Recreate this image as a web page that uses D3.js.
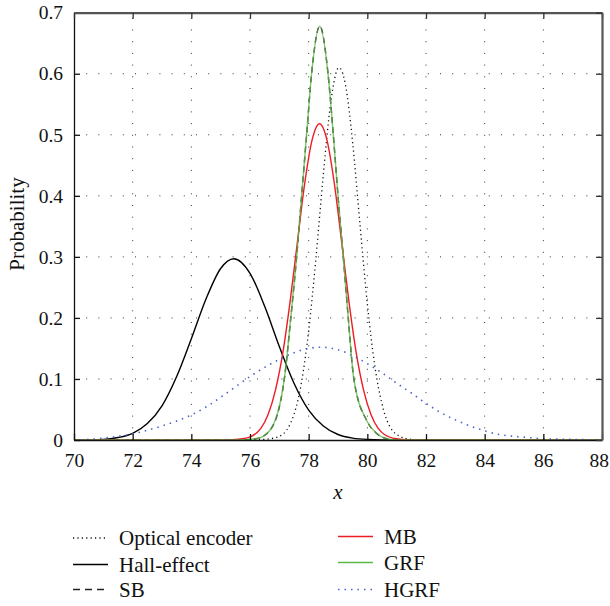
<!DOCTYPE html>
<html lang="en">
  <head>
    <meta charset="UTF-8" />
    <title>Probability curves</title>
    <script src="https://d3js.org/d3.v7.min.js"></script>
    <style>
      body {
        margin: 0;
        padding: 0;
        background-color: #ffffff;
      }
      svg text {
        font-family: "Liberation Serif", "DejaVu Serif", serif;
        fill: #111;
      }
    </style>
  </head>
  <body>
    <div id="chart"></div>

    <script>
      // -----------------------------
      // 1. Data
      // -----------------------------

      const xTicks = [70, 72, 74, 76, 78, 80, 82, 84, 86, 88];
      const xTickLabels = ["70", "72", "74", "76", "78", "80", "82", "84", "86", "88"];
      const yTicks = [0, 0.1, 0.2, 0.3, 0.4, 0.5, 0.6, 0.7];
      const yTickLabels = ["0", "0.1", "0.2", "0.3", "0.4", "0.5", "0.6", "0.7"];

      const seriesNames = ["Optical encoder", "Hall-effect", "SB", "MB", "GRF", "HGRF"];

      // Optical encoder (black dotted)
      const opticalX = [70, 76, 76.5, 77, 77.5, 77.75, 78, 78.25, 78.5, 78.75, 79.03, 79.25, 79.5, 79.75, 80, 80.25, 80.5, 81, 81.5, 82, 88];
      const opticalY = [0, 0, 0.001, 0.006, 0.042, 0.093, 0.179, 0.299, 0.435, 0.552, 0.61, 0.583, 0.487, 0.353, 0.223, 0.123, 0.059, 0.009, 0.001, 0, 0];

      // Hall-effect (black solid)
      const hallX = [70, 71, 71.5, 72, 72.5, 73, 73.5, 74, 74.5, 75, 75.45, 76, 76.5, 77, 77.5, 78, 78.5, 79, 79.5, 80, 81, 88];
      const hallY = [0, 0.001, 0.004, 0.011, 0.027, 0.056, 0.104, 0.166, 0.231, 0.281, 0.297, 0.273, 0.219, 0.153, 0.093, 0.049, 0.023, 0.009, 0.003, 0.001, 0, 0];

      // SB (black dashed) and GRF (green) - practically the same curve
      const grfX = [70, 75.5, 76.2, 76.68, 77.17, 77.39, 77.59, 77.76, 77.93, 78.1, 78.38, 78.66, 78.84, 79.0, 79.18, 79.35, 79.54, 80.0, 80.31, 80.6, 81, 88];
      const grfY = [0, 0, 0.002, 0.016, 0.1, 0.2, 0.3, 0.4, 0.5, 0.6, 0.678, 0.6, 0.5, 0.4, 0.3, 0.2, 0.1, 0.03, 0.011, 0.003, 0, 0];
      const sbX = [70, 75.5, 76.2, 76.68, 77.17, 77.39, 77.59, 77.76, 77.93, 78.1, 78.38, 78.66, 78.84, 79.0, 79.18, 79.35, 79.54, 80.0, 80.31, 80.6, 81, 88];
      const sbY = [0, 0, 0.002, 0.016, 0.1, 0.2, 0.3, 0.4, 0.5, 0.6, 0.678, 0.6, 0.5, 0.4, 0.3, 0.2, 0.1, 0.03, 0.011, 0.003, 0, 0];

      // MB (red)
      const mbX = [70, 75.2, 75.87, 76.37, 76.62, 76.87, 77.12, 77.37, 77.62, 77.87, 78.12, 78.37, 78.62, 78.87, 79.12, 79.37, 79.62, 79.87, 80.12, 80.37, 80.87, 81.5, 88];
      const mbY = [0, 0, 0.003, 0.019, 0.042, 0.082, 0.143, 0.228, 0.326, 0.422, 0.492, 0.518, 0.492, 0.422, 0.326, 0.228, 0.143, 0.082, 0.042, 0.019, 0.003, 0, 0];

      // HGRF (blue dotted)
      const hgrfX = [70, 70.5, 71, 71.5, 72, 72.5, 73, 73.5, 74, 74.5, 75, 75.5, 76, 76.5, 77, 77.5, 78, 78.4, 79, 79.5, 80, 80.5, 81, 81.5, 82, 82.5, 83, 83.5, 84, 84.5, 85, 85.5, 86, 87, 88];
      const hgrfY = [0, 0.001, 0.003, 0.006, 0.01, 0.016, 0.023, 0.031, 0.041, 0.054, 0.07, 0.087, 0.104, 0.119, 0.132, 0.143, 0.15, 0.152, 0.148, 0.138, 0.125, 0.11, 0.093, 0.077, 0.06, 0.045, 0.033, 0.023, 0.015, 0.009, 0.006, 0.004, 0.002, 0.001, 0];

      const seriesData = {
        "Optical encoder": d3.zip(opticalX, opticalY),
        "Hall-effect": d3.zip(hallX, hallY),
        SB: d3.zip(sbX, sbY),
        MB: d3.zip(mbX, mbY),
        GRF: d3.zip(grfX, grfY),
        HGRF: d3.zip(hgrfX, hgrfY),
      };

      // line styles, kept apart from the values
      const styles = {
        "Optical encoder": { color: "#111", width: 1.3, dash: "1.2,3.2", opacity: 1 },
        "Hall-effect": { color: "#000", width: 1.4, dash: null, opacity: 1 },
        SB: { color: "#222", width: 1.4, dash: "6,4", opacity: 1 },
        MB: { color: "#ee1c25", width: 1.4, dash: null, opacity: 1 },
        GRF: { color: "#5db847", width: 1.4, dash: null, opacity: 0.8 },
        HGRF: { color: "#4a63c9", width: 1.6, dash: "1.5,5", opacity: 1 },
      };

      // -----------------------------
      // 2. SVG, scales, axes
      // -----------------------------

      const width = 610;
      const height = 606;
      const plot = { left: 74, right: 602, top: 12.7, bottom: 440 };

      const svg = d3
        .select("#chart")
        .append("svg")
        .attr("width", width)
        .attr("height", height);

      const x = d3.scaleLinear().domain([70, 88]).range([plot.left, plot.right]);
      const y = d3.scaleLinear().domain([0, 0.7]).range([plot.bottom, plot.top]);

      // dotted grid
      const grid = svg.append("g").attr("class", "grid");
      grid
        .selectAll("line.vgrid")
        .data(xTicks.slice(1, -1))
        .join("line")
        .attr("x1", (d) => x(d))
        .attr("x2", (d) => x(d))
        .attr("y1", plot.bottom)
        .attr("y2", plot.top)
        .attr("stroke", "#333")
        .attr("stroke-width", 1)
        .attr("stroke-dasharray", "1,10.7");
      grid
        .selectAll("line.hgrid")
        .data(yTicks.slice(1, -1))
        .join("line")
        .attr("x1", plot.left)
        .attr("x2", plot.right)
        .attr("y1", (d) => y(d))
        .attr("y2", (d) => y(d))
        .attr("stroke", "#333")
        .attr("stroke-width", 1)
        .attr("stroke-dasharray", "1,11.2");

      // curves
      const line = d3
        .line()
        .x((d) => x(d[0]))
        .y((d) => y(d[1]))
        .curve(d3.curveMonotoneX);

      const curves = svg.append("g").attr("class", "curves");
      seriesNames.forEach((name) => {
        const s = styles[name];
        curves
          .append("path")
          .datum(seriesData[name])
          .attr("d", line)
          .attr("fill", "none")
          .attr("stroke", s.color)
          .attr("stroke-width", s.width)
          .attr("stroke-opacity", s.opacity)
          .attr("stroke-dasharray", s.dash);
      });

      // axes (ticks point inwards)
      const fontSize = 19.5;

      const xAxis = d3
        .axisBottom(x)
        .tickValues(xTicks)
        .tickFormat((d, i) => xTickLabels[i])
        .tickSizeInner(-6)
        .tickSizeOuter(0)
        .tickPadding(13);
      const gx = svg
        .append("g")
        .attr("transform", `translate(0,${plot.bottom})`)
        .call(xAxis);

      const yAxis = d3
        .axisLeft(y)
        .tickValues(yTicks)
        .tickFormat((d, i) => yTickLabels[i])
        .tickSizeInner(-6)
        .tickSizeOuter(0)
        .tickPadding(11);
      const gy = svg
        .append("g")
        .attr("transform", `translate(${plot.left},0)`)
        .call(yAxis);

      const gTop = svg
        .append("g")
        .attr("transform", `translate(0,${plot.top})`)
        .call(d3.axisTop(x).tickValues(xTicks).tickFormat("").tickSizeInner(-6).tickSizeOuter(0));
      const gRight = svg
        .append("g")
        .attr("transform", `translate(${plot.right},0)`)
        .call(d3.axisRight(y).tickValues(yTicks).tickFormat("").tickSizeInner(-6).tickSizeOuter(0));

      [gx, gy].forEach((g) => {
        g.select(".domain").attr("stroke", "#111").attr("stroke-width", 1.3);
        g.selectAll(".tick line").attr("stroke", "#111").attr("stroke-width", 1.3);
        g.selectAll(".tick text")
          .attr("font-size", fontSize)
          .attr("font-family", "Liberation Serif, serif")
          .attr("fill", "#111");
      });
      // last x label sits at the window edge, keep it inside
      gx.selectAll(".tick text")
        .filter((d) => d === 88)
        .attr("text-anchor", "end")
        .attr("x", 6.5);
      [gTop, gRight].forEach((g) => {
        g.select(".domain").attr("stroke", "#555").attr("stroke-width", 2.2);
        g.selectAll(".tick line").attr("stroke", "#333").attr("stroke-width", 1.3);
      });

      // axis titles
      svg
        .append("text")
        .attr("x", (plot.left + plot.right) / 2)
        .attr("y", 499)
        .attr("text-anchor", "middle")
        .attr("font-size", 21)
        .attr("font-style", "italic")
        .text("x");

      svg
        .append("text")
        .attr("transform", "translate(24,224) rotate(-90)")
        .attr("text-anchor", "middle")
        .attr("font-size", 21)
        .text("Probability");

      // -----------------------------
      // 3. Legend
      // -----------------------------

      const legendPos = {
        "Optical encoder": [73, 538],
        "Hall-effect": [73, 564.5],
        SB: [73, 589.5],
        MB: [338, 536.5],
        GRF: [338, 562.5],
        HGRF: [338, 589.5],
      };

      const legend = svg.append("g").attr("class", "legend");
      seriesNames.forEach((name) => {
        const s = styles[name];
        const [lx, ly] = legendPos[name];
        legend
          .append("line")
          .attr("x1", lx)
          .attr("x2", lx + 35)
          .attr("y1", ly)
          .attr("y2", ly)
          .attr("stroke", s.color)
          .attr("stroke-width", s.width)
          .attr("stroke-dasharray", name === "SB" ? "7,5" : s.dash);
        legend
          .append("text")
          .attr("x", lx + 46)
          .attr("y", ly + 7)
          .attr("font-size", 21)
          .text(name);
      });
    </script>
  </body>
</html>
